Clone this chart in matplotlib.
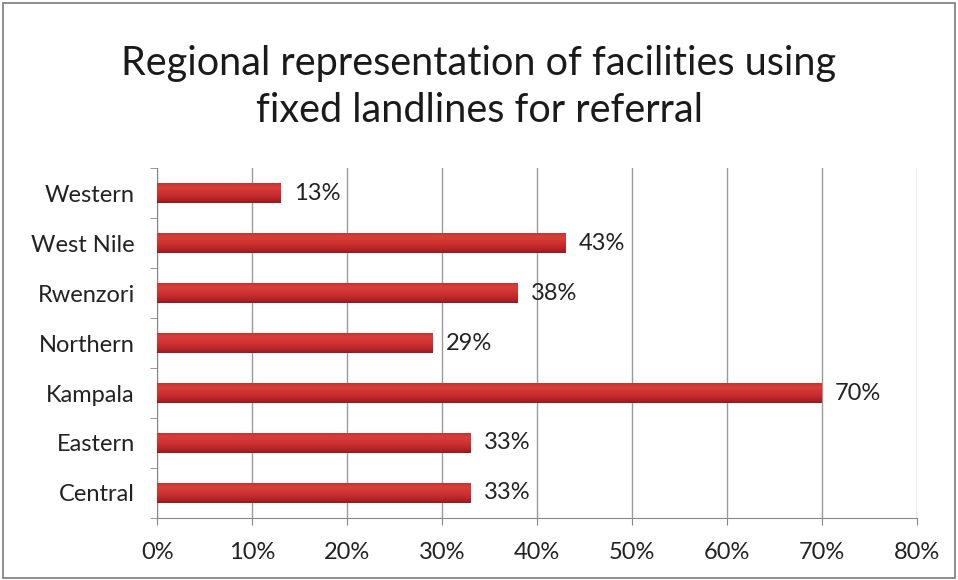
import numpy as np
import matplotlib.pyplot as plt
from matplotlib.colors import LinearSegmentedColormap
from matplotlib.ticker import PercentFormatter

regions = ['Central', 'Eastern', 'Kampala', 'Northern', 'Rwenzori', 'West Nile', 'Western']
share = [33, 33, 70, 29, 38, 43, 13]
labels = ['33%', '33%', '70%', '29%', '38%', '43%', '13%']

plt.rcParams['font.family'] = ['Lato', 'DejaVu Sans']

fig = plt.figure(figsize=(9.58, 5.80), dpi=100)
fig.patch.set_facecolor('white')
ax = fig.add_axes([0.164, 0.107, 0.793, 0.603])

# soft shading across each bar: light top edge, darker bottom edge
shade = LinearSegmentedColormap.from_list(
    'shade', ['#c8332f', '#d8403c', '#d23634', '#c92e2f', '#b52427', '#98191c'])
grad = np.linspace(0, 1, 64).reshape(-1, 1)

h = 0.4
y = np.arange(len(regions))
bars = ax.barh(y, share, height=h, color='none', zorder=3)
for b, v in zip(bars, share):
    im = ax.imshow(grad, cmap=shade, aspect='auto', zorder=3, origin='upper',
                   extent=[0, v, b.get_y(), b.get_y() + h], interpolation='bilinear')
    im.set_clip_path(b)

for yi, v, t in zip(y, share, labels):
    ax.text(v + 1.4, yi, t, va='center', ha='left', fontsize=17, color='#222222')

ax.set_xlim(0, 80)
ax.set_ylim(-0.5, len(regions) - 0.5)
ax.set_xticks(np.arange(0, 81, 10))
ax.xaxis.set_major_formatter(PercentFormatter(decimals=0))
ax.set_yticks(y)
ax.set_yticklabels(regions)
ax.set_yticks(np.arange(-0.5, len(regions), 1), minor=True)
ax.tick_params(axis='y', which='major', length=0, pad=16, labelsize=17, colors='#222222')
ax.tick_params(axis='y', which='minor', length=5, color='#888888')
ax.tick_params(axis='x', length=5, color='#888888', labelsize=17, colors='#222222', pad=12)
ax.grid(axis='x', color='#9a9a9a', linewidth=1, zorder=0)
for s in ['top', 'right']:
    ax.spines[s].set_visible(False)
for s in ['left', 'bottom']:
    ax.spines[s].set_color('#888888')

fig.text(0.5, 0.85, 'Regional representation of facilities using\nfixed landlines for referral',
         ha='center', va='center', fontsize=28.5, color='#1a1a1a', linespacing=1.3)

fig.add_artist(plt.Rectangle((0.003, 0.004), 0.994, 0.99, transform=fig.transFigure,
                             fill=False, edgecolor='#7a7a7a', linewidth=1.2))

fig.savefig('out.png', dpi=100)
